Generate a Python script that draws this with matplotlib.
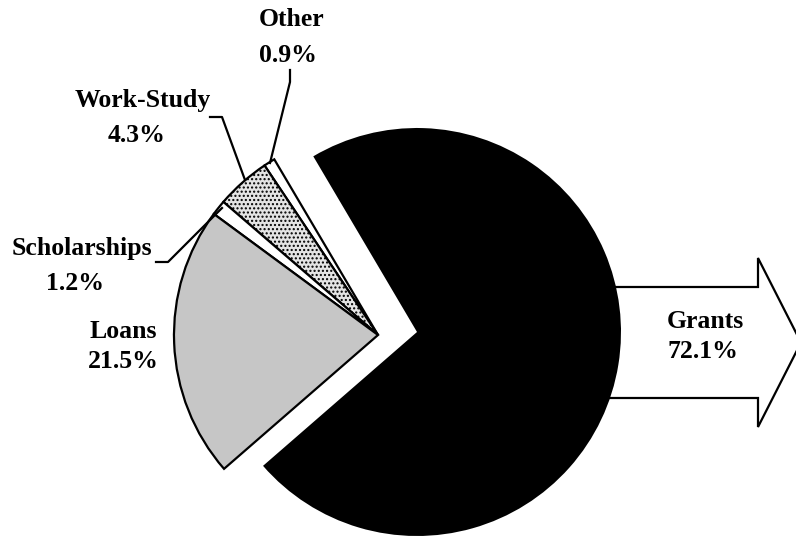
import numpy as np
import matplotlib
matplotlib.use("Agg")
import matplotlib.pyplot as plt
from matplotlib.patches import Polygon

# --- data ---
labels = ["Grants", "Other", "Work-Study", "Scholarships", "Loans"]
shares = [72.1, 0.9, 4.3, 1.2, 21.5]
pct_text = ["72.1%", "0.9%", "4.3%", "1.2%", "21.5%"]

# --- styles ---
colors = ["black", "white", "#e4e4e4", "white", "#c6c6c6"]
hatches = [None, None, "....", None, None]

W, H = 796, 539
fig = plt.figure(figsize=(W / 100, H / 100), dpi=100)
ax = fig.add_axes([0, 0, 1, 1])

R = 204
c_main = (417, 207)     # centre of the Grants slice (pixel units, y up)
c_expl = (378, 204)     # centre of the pulled-out group

font = dict(family="Liberation Serif", weight="bold", size=18.5)

# arrow behind the pie
arrow = Polygon([(560, 252), (758, 252), (758, 281), (801, 196.5),
                 (758, 112), (758, 141), (560, 141)],
                closed=True, facecolor="white", edgecolor="black",
                linewidth=1.6, zorder=1)
ax.add_patch(arrow)

# Grants slice (unexploded)
w1, _ = ax.pie(shares, startangle=221, radius=R, center=c_main,
               colors=colors, wedgeprops=dict(linewidth=0))
# remaining slices, pulled out as a group
w2, _ = ax.pie(shares, startangle=221, radius=R, center=c_expl,
               colors=colors, wedgeprops=dict(linewidth=1.6, edgecolor="black"))
for i, (a, b) in enumerate(zip(w1, w2)):
    a.set_zorder(3)
    b.set_zorder(3)
    if i == 0:
        b.set_visible(False)
    else:
        a.set_visible(False)
        if hatches[i]:
            b.set_hatch(hatches[i])

# --- labels ---
ax.text(292, 520, labels[1], ha="center", va="center", **font)
ax.text(288, 484, pct_text[1], ha="center", va="center", **font)
ax.text(143, 439, labels[2], ha="center", va="center", **font)
ax.text(137, 404, pct_text[2], ha="center", va="center", **font)
ax.text(82, 291, labels[3], ha="center", va="center", **font)
ax.text(75, 256, pct_text[3], ha="center", va="center", **font)
ax.text(123, 207, labels[4], ha="center", va="center", **font)
ax.text(123, 177, pct_text[4], ha="center", va="center", **font)
ax.text(705, 217, labels[0], ha="center", va="center", zorder=4, **font)
ax.text(703, 187, pct_text[0], ha="center", va="center", zorder=4, **font)

# leader lines
lk = dict(color="black", linewidth=1.6, zorder=4)
ax.plot([290, 290, 270], [469, 457, 376], **lk)
ax.plot([210, 222, 245], [422, 422, 359], **lk)
ax.plot([156, 168, 222], [277, 277, 331], **lk)

ax.set_xlim(0, W)
ax.set_ylim(0, H)
ax.set_aspect("equal")
ax.axis("off")

fig.savefig("out.png", dpi=100)
plt.close(fig)
